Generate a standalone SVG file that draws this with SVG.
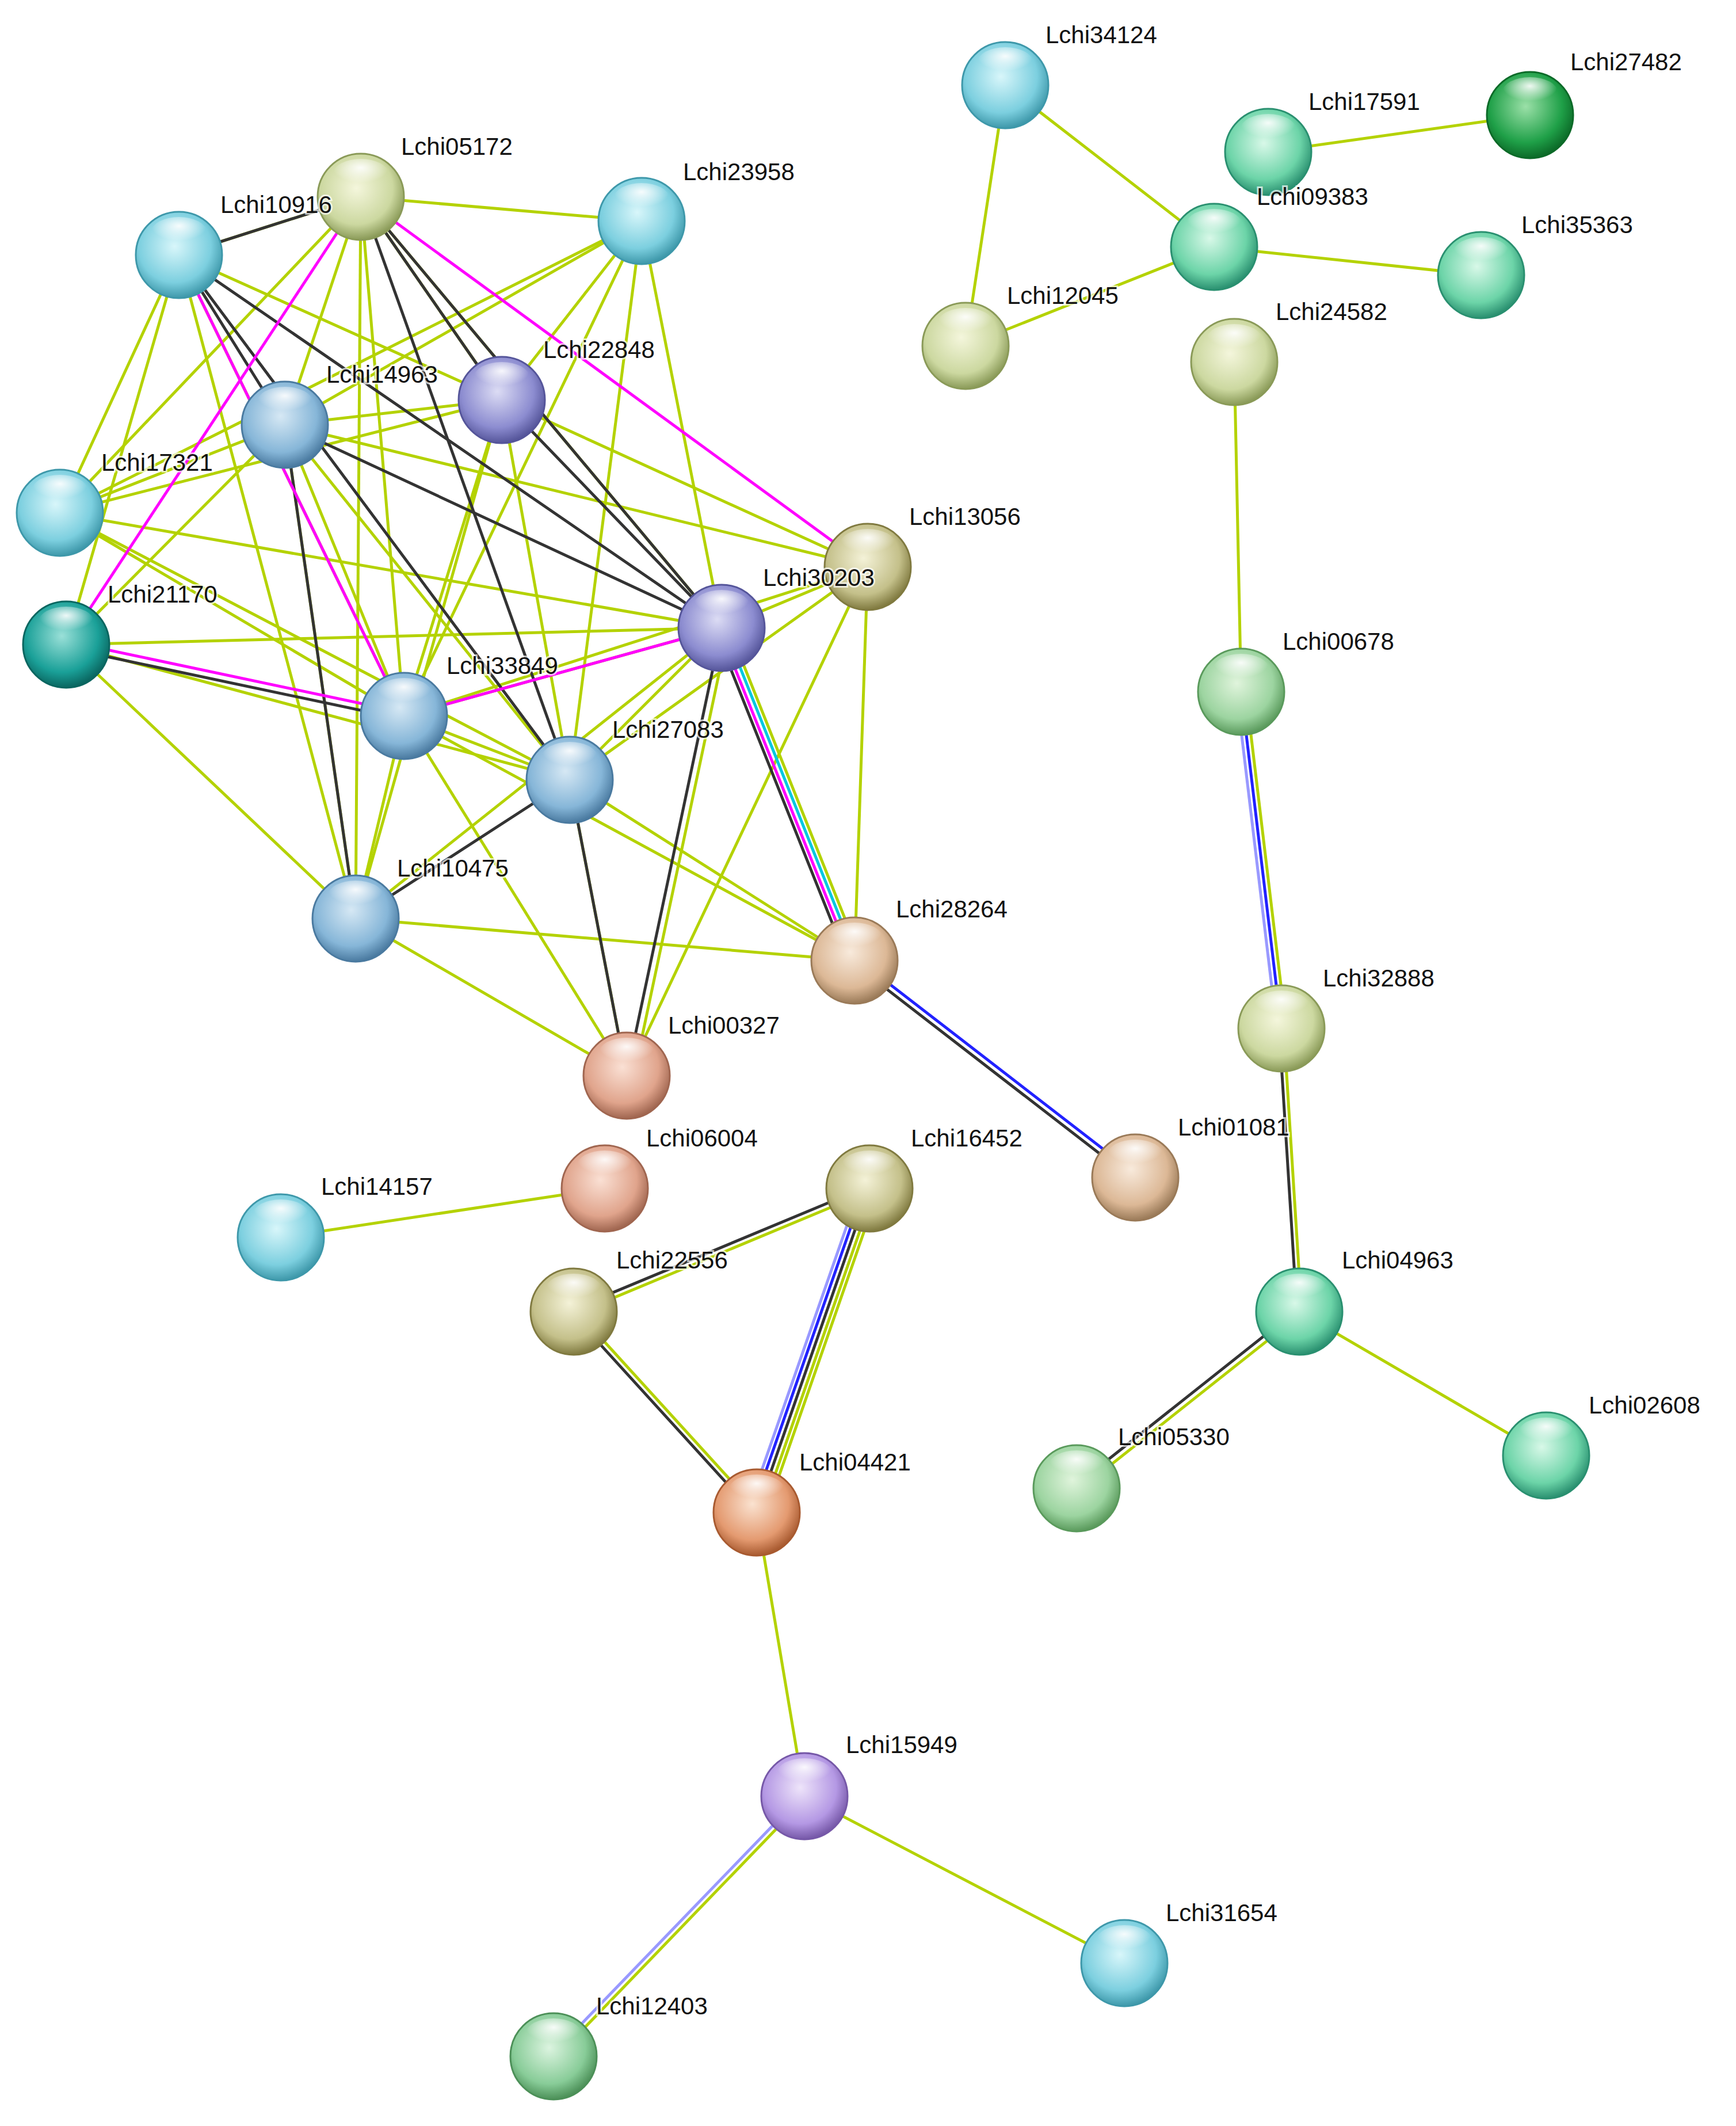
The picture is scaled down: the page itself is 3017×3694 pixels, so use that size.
<svg xmlns="http://www.w3.org/2000/svg" width="3017" height="3694" viewBox="0 0 3017 3694">
<style>
line{stroke-width:5;fill:none}
.g{stroke:#B4D200}.k{stroke:#333}.m{stroke:#FF00FF}.c{stroke:#00C8E0}.b{stroke:#2222FF}.lb{stroke:#9999FF}
text{font-family:"Liberation Sans",Arial,sans-serif;font-size:42px;fill:#111;paint-order:stroke;stroke:#fff;stroke-width:6px;stroke-opacity:0.7}
.n circle.h{fill:url(#hl)}
</style>
<defs>
<radialGradient id="hl" cx="50%" cy="30%" r="50%"><stop offset="0" stop-color="#fff" stop-opacity="0.9"/><stop offset="1" stop-color="#fff" stop-opacity="0"/></radialGradient>
<radialGradient id="cy" cx="45%" cy="40%" r="60%"><stop offset="0" stop-color="#d8f6fa"/><stop offset="0.7" stop-color="#7ccfdf"/><stop offset="1" stop-color="#3e98aa"/></radialGradient>
<radialGradient id="sb" cx="45%" cy="40%" r="60%"><stop offset="0" stop-color="#d6e8f4"/><stop offset="0.7" stop-color="#86b6d8"/><stop offset="1" stop-color="#4a7aa0"/></radialGradient>
<radialGradient id="pu" cx="45%" cy="40%" r="60%"><stop offset="0" stop-color="#dcdcf4"/><stop offset="0.7" stop-color="#8c8cd0"/><stop offset="1" stop-color="#55559a"/></radialGradient>
<radialGradient id="ol" cx="45%" cy="40%" r="60%"><stop offset="0" stop-color="#f4f2d8"/><stop offset="0.7" stop-color="#c4c08a"/><stop offset="1" stop-color="#807a40"/></radialGradient>
<radialGradient id="yg" cx="45%" cy="40%" r="60%"><stop offset="0" stop-color="#f4f6dc"/><stop offset="0.7" stop-color="#ccd8a0"/><stop offset="1" stop-color="#8a9a58"/></radialGradient>
<radialGradient id="pe" cx="45%" cy="40%" r="60%"><stop offset="0" stop-color="#f8eadc"/><stop offset="0.7" stop-color="#dcb896"/><stop offset="1" stop-color="#9a7a58"/></radialGradient>
<radialGradient id="sa" cx="45%" cy="40%" r="60%"><stop offset="0" stop-color="#fae0d4"/><stop offset="0.7" stop-color="#e0a48c"/><stop offset="1" stop-color="#a06650"/></radialGradient>
<radialGradient id="gt" cx="45%" cy="40%" r="60%"><stop offset="0" stop-color="#d8f8e8"/><stop offset="0.7" stop-color="#6cd4a8"/><stop offset="1" stop-color="#2a9070"/></radialGradient>
<radialGradient id="dg" cx="45%" cy="40%" r="60%"><stop offset="0" stop-color="#9be0a8"/><stop offset="0.7" stop-color="#1fa048"/><stop offset="1" stop-color="#0c6a28"/></radialGradient>
<radialGradient id="dt" cx="45%" cy="40%" r="60%"><stop offset="0" stop-color="#9ae0d8"/><stop offset="0.7" stop-color="#1aa098"/><stop offset="1" stop-color="#0a6660"/></radialGradient>
<radialGradient id="vi" cx="45%" cy="40%" r="60%"><stop offset="0" stop-color="#eee4fa"/><stop offset="0.7" stop-color="#b498e4"/><stop offset="1" stop-color="#7658a8"/></radialGradient>
<radialGradient id="lg" cx="45%" cy="40%" r="60%"><stop offset="0" stop-color="#dcf4e0"/><stop offset="0.7" stop-color="#88cc98"/><stop offset="1" stop-color="#4c9058"/></radialGradient>
<radialGradient id="or" cx="45%" cy="40%" r="60%"><stop offset="0" stop-color="#fae2d0"/><stop offset="0.7" stop-color="#e49a70"/><stop offset="1" stop-color="#a85a30"/></radialGradient>
<radialGradient id="mg" cx="45%" cy="40%" r="60%"><stop offset="0" stop-color="#e0f4dc"/><stop offset="0.7" stop-color="#9cd4a0"/><stop offset="1" stop-color="#5a9a5c"/></radialGradient>
</defs>
<rect width="3017" height="3694" fill="#fff"/>
<g id="connectors">
<!-- right side -->
<line class="g" x1="1747" y1="148" x2="2110" y2="429"/>
<line class="g" x1="1747" y1="148" x2="1678" y2="601"/>
<line class="g" x1="2204" y1="264" x2="2659" y2="200"/>
<line class="g" x1="2110" y1="429" x2="1678" y2="601"/>
<line class="g" x1="2110" y1="429" x2="2574" y2="478"/>
<line class="g" x1="2145" y1="629" x2="2157" y2="1202"/>
<line class="lb" x1="2149" y1="1203" x2="2219" y2="1788"/>
<line class="b" x1="2157" y1="1202" x2="2227" y2="1787"/>
<line class="g" x1="2165" y1="1201" x2="2235" y2="1786"/>
<line class="k" x1="2223" y1="1787" x2="2254" y2="2279"/>
<line class="g" x1="2231" y1="1787" x2="2262" y2="2279"/>
<line class="g" x1="2261" y1="2283" x2="1874" y2="2590"/>
<line class="k" x1="2255" y1="2275" x2="1868" y2="2582"/>
<line class="g" x1="2258" y1="2279" x2="2687" y2="2529"/>
<line class="k" x1="1482" y1="1673" x2="1970" y2="2050"/>
<line class="b" x1="1488" y1="1665" x2="1976" y2="2042"/>
<!-- lower -->
<line class="g" x1="488" y1="2150" x2="1051" y2="2065"/>
<line class="k" x1="1509" y1="2061" x2="995" y2="2275"/>
<line class="g" x1="1513" y1="2069" x2="999" y2="2283"/>
<line class="k" x1="994" y1="2282" x2="1312" y2="2631"/>
<line class="g" x1="1000" y1="2276" x2="1318" y2="2625"/>
<line class="lb" x1="1496" y1="2060" x2="1300" y2="2623"/>
<line class="b" x1="1503" y1="2062" x2="1307" y2="2625"/>
<line class="k" x1="1511" y1="2065" x2="1315" y2="2628"/>
<line class="g" x1="1519" y1="2068" x2="1323" y2="2631"/>
<line class="g" x1="1526" y1="2070" x2="1330" y2="2633"/>
<line class="g" x1="1315" y1="2628" x2="1398" y2="3121"/>
<line class="g" x1="1398" y1="3121" x2="1954" y2="3411"/>
<line class="lb" x1="1395" y1="3118" x2="959" y2="3570"/>
<line class="g" x1="1401" y1="3124" x2="965" y2="3576"/>
<!-- cluster green -->
<line class="g" x1="627" y1="342" x2="1115" y2="384"/>
<line class="g" x1="627" y1="342" x2="311" y2="443"/>
<line class="g" x1="627" y1="342" x2="495" y2="738"/>
<line class="g" x1="627" y1="342" x2="104" y2="891"/>
<line class="g" x1="627" y1="342" x2="702" y2="1244"/>
<line class="g" x1="627" y1="342" x2="618" y2="1596"/>
<line class="g" x1="627" y1="342" x2="1254" y2="1091"/>
<line class="g" x1="627" y1="342" x2="872" y2="695"/>
<line class="g" x1="1115" y1="384" x2="495" y2="738"/>
<line class="g" x1="1115" y1="384" x2="872" y2="695"/>
<line class="g" x1="1115" y1="384" x2="702" y2="1244"/>
<line class="g" x1="1115" y1="384" x2="990" y2="1355"/>
<line class="g" x1="1115" y1="384" x2="1254" y2="1091"/>
<line class="g" x1="1115" y1="384" x2="104" y2="891"/>
<line class="g" x1="311" y1="443" x2="104" y2="891"/>
<line class="g" x1="311" y1="443" x2="115" y2="1120"/>
<line class="g" x1="311" y1="443" x2="618" y2="1596"/>
<line class="g" x1="311" y1="443" x2="872" y2="695"/>
<line class="g" x1="311" y1="443" x2="702" y2="1244"/>
<line class="g" x1="495" y1="738" x2="104" y2="891"/>
<line class="g" x1="495" y1="738" x2="115" y2="1120"/>
<line class="g" x1="495" y1="738" x2="872" y2="695"/>
<line class="g" x1="495" y1="738" x2="702" y2="1244"/>
<line class="g" x1="495" y1="738" x2="990" y2="1355"/>
<line class="g" x1="495" y1="738" x2="1508" y2="985"/>
<line class="g" x1="872" y1="695" x2="104" y2="891"/>
<line class="g" x1="872" y1="695" x2="702" y2="1244"/>
<line class="g" x1="872" y1="695" x2="990" y2="1355"/>
<line class="g" x1="872" y1="695" x2="618" y2="1596"/>
<line class="g" x1="872" y1="695" x2="1508" y2="985"/>
<line class="g" x1="104" y1="891" x2="1254" y2="1091"/>
<line class="g" x1="104" y1="891" x2="702" y2="1244"/>
<line class="g" x1="104" y1="891" x2="990" y2="1355"/>
<line class="g" x1="115" y1="1120" x2="1254" y2="1091"/>
<line class="g" x1="115" y1="1120" x2="990" y2="1355"/>
<line class="g" x1="115" y1="1120" x2="618" y2="1596"/>
<line class="g" x1="1508" y1="985" x2="702" y2="1244"/>
<line class="g" x1="1508" y1="985" x2="990" y2="1355"/>
<line class="g" x1="1508" y1="985" x2="1485" y2="1669"/>
<line class="g" x1="1508" y1="985" x2="1089" y2="1869"/>
<line class="g" x1="1508" y1="985" x2="1254" y2="1091"/>
<line class="g" x1="1254" y1="1091" x2="702" y2="1244"/>
<line class="g" x1="1254" y1="1091" x2="990" y2="1355"/>
<line class="g" x1="1254" y1="1091" x2="618" y2="1596"/>
<line class="g" x1="702" y1="1244" x2="990" y2="1355"/>
<line class="g" x1="702" y1="1244" x2="618" y2="1596"/>
<line class="g" x1="702" y1="1244" x2="1089" y2="1869"/>
<line class="g" x1="702" y1="1244" x2="1485" y2="1669"/>
<line class="g" x1="990" y1="1355" x2="1485" y2="1669"/>
<line class="g" x1="990" y1="1355" x2="1089" y2="1869"/>
<line class="g" x1="618" y1="1596" x2="1485" y2="1669"/>
<line class="g" x1="618" y1="1596" x2="1089" y2="1869"/>
<line class="g" x1="495" y1="738" x2="618" y2="1596"/>
<line class="g" x1="1101" y1="1871" x2="1266" y2="1093"/>
<!-- cluster black -->
<line class="k" x1="311" y1="443" x2="495" y2="738"/>
<line class="k" x1="311" y1="443" x2="627" y2="342"/>
<line class="k" x1="311" y1="443" x2="1254" y2="1091"/>
<line class="k" x1="311" y1="443" x2="990" y2="1355"/>
<line class="k" x1="627" y1="342" x2="872" y2="695"/>
<line class="k" x1="627" y1="342" x2="1254" y2="1091"/>
<line class="k" x1="627" y1="342" x2="990" y2="1355"/>
<line class="k" x1="495" y1="738" x2="618" y2="1596"/>
<line class="k" x1="495" y1="738" x2="1254" y2="1091"/>
<line class="k" x1="872" y1="695" x2="1254" y2="1091"/>
<line class="k" x1="990" y1="1355" x2="618" y2="1596"/>
<line class="k" x1="1254" y1="1091" x2="1089" y2="1869"/>
<line class="k" x1="990" y1="1355" x2="1089" y2="1869"/>
<!-- magenta -->
<line class="m" x1="627" y1="342" x2="1508" y2="985"/>
<line class="m" x1="627" y1="342" x2="115" y2="1120"/>
<line class="m" x1="311" y1="443" x2="702" y2="1244"/>
<line class="m" x1="1254" y1="1091" x2="702" y2="1244"/>
<line class="m" x1="115" y1="1114" x2="702" y2="1238"/>
<line class="k" x1="115" y1="1126" x2="702" y2="1250"/>
<!-- 30203-28264 -->
<line class="g" x1="1265" y1="1087" x2="1496" y2="1665"/>
<line class="c" x1="1258" y1="1089" x2="1489" y2="1668"/>
<line class="m" x1="1250" y1="1093" x2="1481" y2="1671"/>
<line class="k" x1="1243" y1="1095" x2="1474" y2="1673"/>
</g>
<g id="nodes">
<g id="Lchi34124" class="n"><circle cx="1747" cy="148" r="75" fill="url(#cy)" stroke="#3e98aa" stroke-width="3"/><ellipse cx="1747" cy="108" rx="48" ry="26" fill="url(#hl)"/><text x="1817" y="75">Lchi34124</text></g>
<g id="Lchi17591" class="n"><circle cx="2204" cy="264" r="75" fill="url(#gt)" stroke="#2a9070" stroke-width="3"/><ellipse cx="2204" cy="224" rx="48" ry="26" fill="url(#hl)"/><text x="2274" y="191">Lchi17591</text></g>
<g id="Lchi27482" class="n"><circle cx="2659" cy="200" r="75" fill="url(#dg)" stroke="#0c6a28" stroke-width="3"/><ellipse cx="2659" cy="160" rx="48" ry="26" fill="url(#hl)"/><text x="2729" y="122">Lchi27482</text></g>
<g id="Lchi09383" class="n"><circle cx="2110" cy="429" r="75" fill="url(#gt)" stroke="#2a9070" stroke-width="3"/><ellipse cx="2110" cy="389" rx="48" ry="26" fill="url(#hl)"/><text x="2184" y="356">Lchi09383</text></g>
<g id="Lchi35363" class="n"><circle cx="2574" cy="478" r="75" fill="url(#gt)" stroke="#2a9070" stroke-width="3"/><ellipse cx="2574" cy="438" rx="48" ry="26" fill="url(#hl)"/><text x="2644" y="405">Lchi35363</text></g>
<g id="Lchi12045" class="n"><circle cx="1678" cy="601" r="75" fill="url(#yg)" stroke="#8a9a58" stroke-width="3"/><ellipse cx="1678" cy="561" rx="48" ry="26" fill="url(#hl)"/><text x="1750" y="528">Lchi12045</text></g>
<g id="Lchi24582" class="n"><circle cx="2145" cy="629" r="75" fill="url(#yg)" stroke="#8a9a58" stroke-width="3"/><ellipse cx="2145" cy="589" rx="48" ry="26" fill="url(#hl)"/><text x="2217" y="556">Lchi24582</text></g>
<g id="Lchi05172" class="n"><circle cx="627" cy="342" r="75" fill="url(#yg)" stroke="#8a9a58" stroke-width="3"/><ellipse cx="627" cy="302" rx="48" ry="26" fill="url(#hl)"/><text x="697" y="269">Lchi05172</text></g>
<g id="Lchi23958" class="n"><circle cx="1115" cy="384" r="75" fill="url(#cy)" stroke="#3e98aa" stroke-width="3"/><ellipse cx="1115" cy="344" rx="48" ry="26" fill="url(#hl)"/><text x="1187" y="313">Lchi23958</text></g>
<g id="Lchi10916" class="n"><circle cx="311" cy="443" r="75" fill="url(#cy)" stroke="#3e98aa" stroke-width="3"/><ellipse cx="311" cy="403" rx="48" ry="26" fill="url(#hl)"/><text x="383" y="370">Lchi10916</text></g>
<g id="Lchi14963" class="n"><circle cx="495" cy="738" r="75" fill="url(#sb)" stroke="#4a7aa0" stroke-width="3"/><ellipse cx="495" cy="698" rx="48" ry="26" fill="url(#hl)"/><text x="567" y="665">Lchi14963</text></g>
<g id="Lchi22848" class="n"><circle cx="872" cy="695" r="75" fill="url(#pu)" stroke="#55559a" stroke-width="3"/><ellipse cx="872" cy="655" rx="48" ry="26" fill="url(#hl)"/><text x="944" y="622">Lchi22848</text></g>
<g id="Lchi17321" class="n"><circle cx="104" cy="891" r="75" fill="url(#cy)" stroke="#3e98aa" stroke-width="3"/><ellipse cx="104" cy="851" rx="48" ry="26" fill="url(#hl)"/><text x="176" y="818">Lchi17321</text></g>
<g id="Lchi13056" class="n"><circle cx="1508" cy="985" r="75" fill="url(#ol)" stroke="#807a40" stroke-width="3"/><ellipse cx="1508" cy="945" rx="48" ry="26" fill="url(#hl)"/><text x="1580" y="912">Lchi13056</text></g>
<g id="Lchi21170" class="n"><circle cx="115" cy="1120" r="75" fill="url(#dt)" stroke="#0a6660" stroke-width="3"/><ellipse cx="115" cy="1080" rx="48" ry="26" fill="url(#hl)"/><text x="187" y="1047">Lchi21170</text></g>
<g id="Lchi30203" class="n"><circle cx="1254" cy="1091" r="75" fill="url(#pu)" stroke="#55559a" stroke-width="3"/><ellipse cx="1254" cy="1051" rx="48" ry="26" fill="url(#hl)"/><text x="1326" y="1018">Lchi30203</text></g>
<g id="Lchi33849" class="n"><circle cx="702" cy="1244" r="75" fill="url(#sb)" stroke="#4a7aa0" stroke-width="3"/><ellipse cx="702" cy="1204" rx="48" ry="26" fill="url(#hl)"/><text x="776" y="1171">Lchi33849</text></g>
<g id="Lchi27083" class="n"><circle cx="990" cy="1355" r="75" fill="url(#sb)" stroke="#4a7aa0" stroke-width="3"/><ellipse cx="990" cy="1315" rx="48" ry="26" fill="url(#hl)"/><text x="1064" y="1282">Lchi27083</text></g>
<g id="Lchi10475" class="n"><circle cx="618" cy="1596" r="75" fill="url(#sb)" stroke="#4a7aa0" stroke-width="3"/><ellipse cx="618" cy="1556" rx="48" ry="26" fill="url(#hl)"/><text x="690" y="1523">Lchi10475</text></g>
<g id="Lchi00678" class="n"><circle cx="2157" cy="1202" r="75" fill="url(#mg)" stroke="#5a9a5c" stroke-width="3"/><ellipse cx="2157" cy="1162" rx="48" ry="26" fill="url(#hl)"/><text x="2229" y="1129">Lchi00678</text></g>
<g id="Lchi28264" class="n"><circle cx="1485" cy="1669" r="75" fill="url(#pe)" stroke="#9a7a58" stroke-width="3"/><ellipse cx="1485" cy="1629" rx="48" ry="26" fill="url(#hl)"/><text x="1557" y="1594">Lchi28264</text></g>
<g id="Lchi32888" class="n"><circle cx="2227" cy="1787" r="75" fill="url(#yg)" stroke="#8a9a58" stroke-width="3"/><ellipse cx="2227" cy="1747" rx="48" ry="26" fill="url(#hl)"/><text x="2299" y="1714">Lchi32888</text></g>
<g id="Lchi00327" class="n"><circle cx="1089" cy="1869" r="75" fill="url(#sa)" stroke="#a06650" stroke-width="3"/><ellipse cx="1089" cy="1829" rx="48" ry="26" fill="url(#hl)"/><text x="1161" y="1796">Lchi00327</text></g>
<g id="Lchi06004" class="n"><circle cx="1051" cy="2065" r="75" fill="url(#sa)" stroke="#a06650" stroke-width="3"/><ellipse cx="1051" cy="2025" rx="48" ry="26" fill="url(#hl)"/><text x="1123" y="1992">Lchi06004</text></g>
<g id="Lchi16452" class="n"><circle cx="1511" cy="2065" r="75" fill="url(#ol)" stroke="#807a40" stroke-width="3"/><ellipse cx="1511" cy="2025" rx="48" ry="26" fill="url(#hl)"/><text x="1583" y="1992">Lchi16452</text></g>
<g id="Lchi14157" class="n"><circle cx="488" cy="2150" r="75" fill="url(#cy)" stroke="#3e98aa" stroke-width="3"/><ellipse cx="488" cy="2110" rx="48" ry="26" fill="url(#hl)"/><text x="558" y="2076">Lchi14157</text></g>
<g id="Lchi01081" class="n"><circle cx="1973" cy="2046" r="75" fill="url(#pe)" stroke="#9a7a58" stroke-width="3"/><ellipse cx="1973" cy="2006" rx="48" ry="26" fill="url(#hl)"/><text x="2047" y="1973">Lchi01081</text></g>
<g id="Lchi22556" class="n"><circle cx="997" cy="2279" r="75" fill="url(#ol)" stroke="#807a40" stroke-width="3"/><ellipse cx="997" cy="2239" rx="48" ry="26" fill="url(#hl)"/><text x="1071" y="2204">Lchi22556</text></g>
<g id="Lchi04963" class="n"><circle cx="2258" cy="2279" r="75" fill="url(#gt)" stroke="#2a9070" stroke-width="3"/><ellipse cx="2258" cy="2239" rx="48" ry="26" fill="url(#hl)"/><text x="2332" y="2204">Lchi04963</text></g>
<g id="Lchi02608" class="n"><circle cx="2687" cy="2529" r="75" fill="url(#gt)" stroke="#2a9070" stroke-width="3"/><ellipse cx="2687" cy="2489" rx="48" ry="26" fill="url(#hl)"/><text x="2761" y="2456">Lchi02608</text></g>
<g id="Lchi05330" class="n"><circle cx="1871" cy="2586" r="75" fill="url(#mg)" stroke="#5a9a5c" stroke-width="3"/><ellipse cx="1871" cy="2546" rx="48" ry="26" fill="url(#hl)"/><text x="1943" y="2511">Lchi05330</text></g>
<g id="Lchi04421" class="n"><circle cx="1315" cy="2628" r="75" fill="url(#or)" stroke="#a85a30" stroke-width="3"/><ellipse cx="1315" cy="2588" rx="48" ry="26" fill="url(#hl)"/><text x="1389" y="2555">Lchi04421</text></g>
<g id="Lchi15949" class="n"><circle cx="1398" cy="3121" r="75" fill="url(#vi)" stroke="#7658a8" stroke-width="3"/><ellipse cx="1398" cy="3081" rx="48" ry="26" fill="url(#hl)"/><text x="1470" y="3046">Lchi15949</text></g>
<g id="Lchi31654" class="n"><circle cx="1954" cy="3411" r="75" fill="url(#cy)" stroke="#3e98aa" stroke-width="3"/><ellipse cx="1954" cy="3371" rx="48" ry="26" fill="url(#hl)"/><text x="2026" y="3338">Lchi31654</text></g>
<g id="Lchi12403" class="n"><circle cx="962" cy="3573" r="75" fill="url(#lg)" stroke="#4c9058" stroke-width="3"/><ellipse cx="962" cy="3533" rx="48" ry="26" fill="url(#hl)"/><text x="1036" y="3500">Lchi12403</text></g>
</g>
</svg>
